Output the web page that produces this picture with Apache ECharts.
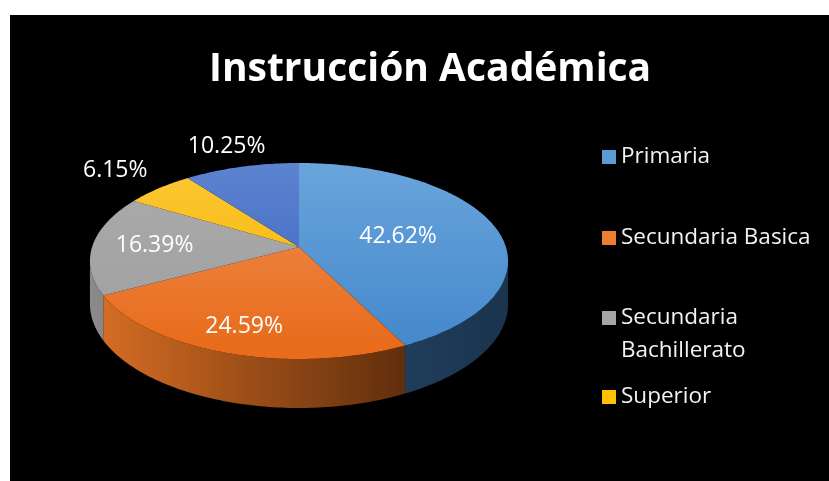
<!DOCTYPE html>
<html>
<head>
<meta charset="utf-8">
<style>
  html, body { margin: 0; padding: 0; background: #fff; }
  #chart { position: absolute; left: 10px; top: 15px; width: 819px; height: 466px; }
</style>
<script src="https://cdn.jsdelivr.net/npm/echarts@6/dist/echarts.min.js"></script>
</head>
<body>
<div id="chart"></div>
<script>
// data
const categories = ['Primaria', 'Secundaria Basica', 'Secundaria Bachillerato', 'Superior', 'Postgrado']
const values = [42.62, 24.59, 16.39, 6.15, 10.25]
const legendNames = ['Primaria', 'Secundaria Basica', 'Secundaria Bachillerato', 'Superior']

// look of each slice: top face gradient, side gradient, legend swatch, label distance
const topColors = [
  ['#6CA6DD', '#4589CC'],
  ['#F0925A', '#E86C1C'],
  ['#ACACAC', '#9F9F9F'],
  ['#FFC838', '#F0B500'],
  ['#5F86D1', '#3961BF']
]
const sideColors = [
  ['#2E5A88', '#1B344E'],
  ['#D86E24', '#3A1A05'],
  ['#8A8A8A', '#303030'],
  ['#C99A00', '#5A4500'],
  ['#2C4A88', '#18284A']
]
const swatch = ['#5B9BD5', '#ED7D31', '#A5A5A5', '#FFC000', '#4472C4']
const labelRadius = [0.5, 0.78, 0.7, 1.35, 1.3]

// tilted pie with a bit of perspective (px inside the chart box)
const CX = 289, CY = 232, RX = 206.9, RY = 96, K = 0.1429, DEPTH = 42

const total = values.reduce((a, b) => a + b, 0)
const starts = []
values.reduce((acc, v, i) => { starts[i] = acc; return acc + v }, 0)

const pt = (deg, f = 1, dz = 0) => {
  const r = deg * Math.PI / 180
  const s = Math.sin(r), c = Math.cos(r)
  const p = 1 / (1 + K * f * c)
  return [CX + RX * f * s * p, CY - RY * f * c * p + dz * p]
}

const arc = (a0, a1, dz) => {
  const pts = []
  const n = Math.max(2, Math.ceil(a1 - a0))
  for (let j = 0; j <= n; j++) pts.push(pt(a0 + (a1 - a0) * j / n, 1, dz))
  return pts
}

// the wall is visible between the two silhouette angles
const WALL0 = Math.acos(-K) * 180 / Math.PI
const WALL1 = 360 - WALL0

const makeRender = (k) => (params, api) => {
  const a0 = starts[k] / total * 360
  const a1 = a0 + api.value(0) / total * 360
  const children = []

  const s = Math.max(a0, WALL0), e = Math.min(a1, WALL1)
  if (e > s) {
    const upper = arc(s, e, 0)
    const lower = arc(s, e, DEPTH).reverse()
    children.push({
      type: 'polygon',
      shape: { points: upper.concat(lower) },
      style: {
        fill: new echarts.graphic.LinearGradient(CX - RX, 0, CX + RX, 0, [
          { offset: 0, color: sideColors[k][0] },
          { offset: 1, color: sideColors[k][1] }
        ], true)
      }
    })
  }

  // top face
  children.push({
    type: 'polygon',
    shape: { points: [[CX, CY]].concat(arc(a0, a1, 0)) },
    style: {
      fill: new echarts.graphic.LinearGradient(0, CY - RY, 0, CY + RY, [
        { offset: 0, color: topColors[k][0] },
        { offset: 1, color: topColors[k][1] }
      ], true)
    }
  })

  const [lx, ly] = pt((a0 + a1) / 2, labelRadius[k])
  children.push({
    type: 'text',
    x: lx,
    y: ly,
    style: {
      text: api.value(0).toFixed(2) + '%',
      fill: '#ffffff',
      fontSize: 23,
      fontFamily: 'Open Sans',
      align: 'center',
      verticalAlign: 'middle'
    }
  })

  return { type: 'group', children }
}

const legendCenters = [142, 223, 303, 382]

const chart = echarts.init(document.getElementById('chart'))
chart.setOption({
  backgroundColor: '#000000',
  animation: false,
  title: {
    text: 'Instrucción Académica',
    left: 194,
    top: 30,
    textStyle: { color: '#ffffff', fontFamily: 'Open Sans', fontWeight: 'bold', fontSize: 39 }
  },
  legend: legendNames.map((name, i) => ({
    data: [name],
    orient: 'vertical',
    left: 592,
    top: legendCenters[i] - (name === 'Secundaria Bachillerato' ? 49.5 : 16.5),
    padding: 0,
    icon: 'rect',
    itemWidth: 14,
    itemHeight: 14,
    selectedMode: false,
    formatter: (n) => n === 'Secundaria Bachillerato' ? '\nSecundaria\nBachillerato' : n,
    textStyle: {
      color: '#F2F2F2',
      fontFamily: 'Open Sans',
      fontSize: 22.5,
      lineHeight: 33
    }
  })),
  series: categories.map((name, k) => ({
    type: 'custom',
    name,
    coordinateSystem: 'none',
    itemStyle: { color: swatch[k] },
    data: [values[k]],
    renderItem: makeRender(k)
  }))
})
</script>
</body>
</html>
